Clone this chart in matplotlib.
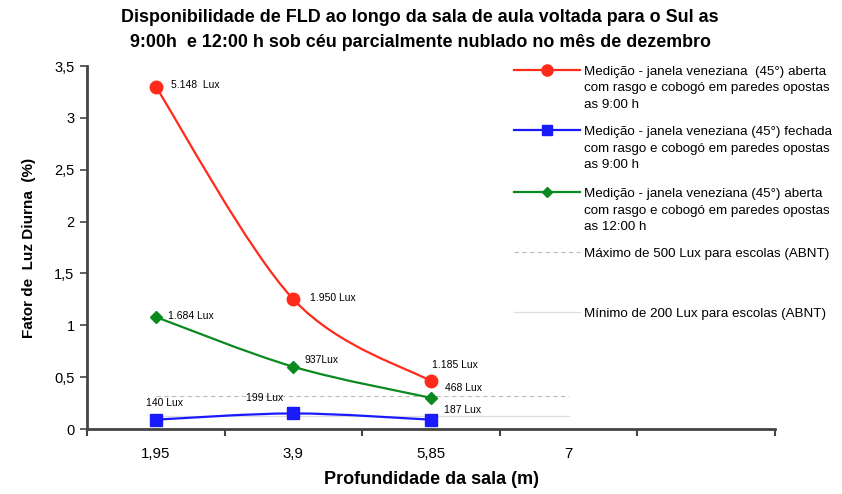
import matplotlib
matplotlib.use("Agg")
import matplotlib.pyplot as plt
from matplotlib.path import Path
from matplotlib.patches import PathPatch
from matplotlib.lines import Line2D

plt.rcParams['font.family'] = ['Liberation Sans', 'DejaVu Sans']

# ---- data ----
categories = ["1,95", "3,9", "5,85", "7", ""]
red_vals = [3.30, 1.25, 0.46]
blue_vals = [0.09, 0.15, 0.09]
green_vals = [1.08, 0.60, 0.30]
red_labels = ["5.148  Lux", "1.950 Lux", "1.185 Lux"]
blue_labels = ["140 Lux", "199 Lux", "187 Lux"]
green_labels = ["1.684 Lux", "937Lux", "468 Lux"]
max_ref = 0.32   # 500 Lux
min_ref = 0.13   # 200 Lux
yticks = [0, 0.5, 1, 1.5, 2, 2.5, 3, 3.5]
ytick_labels = ["0", "0,5", "1", "1,5", "2", "2,5", "3", "3,5"]

legend_labels = [
    "Medição - janela veneziana  (45°) aberta\ncom rasgo e cobogó em paredes opostas\nas 9:00 h",
    "Medição - janela veneziana (45°) fechada\ncom rasgo e cobogó em paredes opostas\nas 9:00 h",
    "Medição - janela veneziana (45°) aberta\ncom rasgo e cobogó em paredes opostas\nas 12:00 h",
    "Máximo de 500 Lux para escolas (ABNT)",
    "Mínimo de 200 Lux para escolas (ABNT)",
]

RED = "#FF2A1A"
BLUE = "#1A1AFF"
GREEN = "#0A8A1E"

fig = plt.figure(figsize=(8.42, 4.94), dpi=100)
ax = fig.add_axes([87/842, 1-429/494, (775-87)/842, (429-66)/494])


def smooth_path(xs, ys):
    pts = list(zip(xs, ys))
    n = len(pts)
    verts = [pts[0]]
    codes = [Path.MOVETO]
    for i in range(n - 1):
        p0 = pts[i - 1] if i > 0 else pts[i]
        p1 = pts[i]
        p2 = pts[i + 1]
        p3 = pts[i + 2] if i + 2 < n else pts[i + 1]
        c1 = (p1[0] + (p2[0] - p0[0]) / 6, p1[1] + (p2[1] - p0[1]) / 6)
        c2 = (p2[0] - (p3[0] - p1[0]) / 6, p2[1] - (p3[1] - p1[1]) / 6)
        verts += [c1, c2, p2]
        codes += [Path.CURVE4] * 3
    return Path(verts, codes)


xs = list(range(len(red_vals)))
for vals, color, marker, ms in [(red_vals, RED, 'o', 9),
                                (blue_vals, BLUE, 's', 8.5),
                                (green_vals, GREEN, 'D', 6)]:
    ax.add_patch(PathPatch(smooth_path(xs, vals), facecolor='none',
                           edgecolor=color, lw=1.6, transform=ax.transData, zorder=3))
    ax.plot(xs, vals, linestyle='none', marker=marker, color=color, ms=ms,
            zorder=4, clip_on=False)

# reference lines
ax.plot([0, 3], [max_ref, max_ref], color="#BBBBBB", lw=0.8, ls=(0, (4, 3)), zorder=2)
ax.plot([0, 3], [min_ref, min_ref], color="#DDDDDD", lw=0.9, zorder=2)

# annotations
fs_ann = 7.5
ax.annotate(red_labels[0], (0, red_vals[0]), xytext=(11, 1), textcoords='offset points', fontsize=fs_ann, va='center')
ax.annotate(red_labels[1], (1, red_vals[1]), xytext=(12, 1), textcoords='offset points', fontsize=fs_ann, va='center')
ax.annotate(red_labels[2], (2, red_vals[2]), xytext=(1, 12), textcoords='offset points', fontsize=fs_ann, va='center', ha='left')
ax.annotate(green_labels[0], (0, green_vals[0]), xytext=(9, 1), textcoords='offset points', fontsize=fs_ann, va='center')
ax.annotate(green_labels[1], (1, green_vals[1]), xytext=(8, 5), textcoords='offset points', fontsize=fs_ann, va='center')
ax.annotate(green_labels[2], (2, green_vals[2]), xytext=(10, 7), textcoords='offset points', fontsize=fs_ann, va='center')
ax.annotate(blue_labels[0], (0, blue_vals[0]), xytext=(-7, 12), textcoords='offset points', fontsize=fs_ann, va='center')
ax.annotate(blue_labels[1], (1, blue_vals[1]), xytext=(-34, 11), textcoords='offset points', fontsize=fs_ann, va='center')
ax.annotate(blue_labels[2], (2, blue_vals[2]), xytext=(9, 7), textcoords='offset points', fontsize=fs_ann, va='center')

# axes styling
ax.set_xlim(-0.5, len(categories) - 0.5)
ax.set_ylim(0, 3.5)
ax.set_yticks(yticks)
ax.set_yticklabels(ytick_labels, fontsize=10.5)
ax.set_xticks(range(len(categories)))
ax.set_xticklabels(categories, fontsize=10.8)
ax.tick_params(axis='x', length=0, pad=13)
ax.set_xticks([i + 0.5 for i in range(-1, len(categories))], minor=True)
ax.tick_params(axis='x', which='minor', length=5, width=1.5, color='#444444', direction='out')
ax.tick_params(axis='y', length=5, width=1.2, color='#444444', direction='out', pad=4)
for s in ['top', 'right']:
    ax.spines[s].set_visible(False)
for s in ['left', 'bottom']:
    ax.spines[s].set_color('#444444')
    ax.spines[s].set_linewidth(2)
ax.set_facecolor('none')

ax.set_ylabel("Fator de  Luz Diurna  (%)", fontsize=11, fontweight='bold', labelpad=13)
ax.set_xlabel("Profundidade da sala (m)", fontsize=13, fontweight='bold', labelpad=7)

fig.text(420/842, 1-30/494, "Disponibilidade de FLD ao longo da sala de aula voltada para o Sul as\n9:00h  e 12:00 h sob céu parcialmente nublado no mês de dezembro",
         ha='center', va='center', fontsize=12.9, fontweight='bold', linespacing=1.62)

# legend (manual, drawn over the plot area)
handles = [
    dict(color=RED, marker='o', ms=8, ls='-', lw=1.6, markevery=[1]),
    dict(color=BLUE, marker='s', ms=7.5, ls='-', lw=1.6, markevery=[1]),
    dict(color=GREEN, marker='D', ms=5, ls='-', lw=1.6, markevery=[1]),
    dict(color="#BBBBBB", marker=None, ls=(0, (4, 3)), lw=0.8),
    dict(color="#DDDDDD", marker=None, ls='-', lw=0.9),
]
ys_top = [70, 130, 192, 252, 312]
for lab, h, yt in zip(legend_labels, handles, ys_top):
    yf = 1 - yt / 494
    fig.add_artist(Line2D([514/842, 547/842, 580/842], [yf, yf, yf],
                          transform=fig.transFigure, zorder=5, **h))
    fig.text(584/842, 1 - (yt - 4) / 494, lab, ha='left', va='top',
             fontsize=9.6, linespacing=1.5, zorder=5,
             bbox=dict(facecolor='white', edgecolor='none', pad=0))

fig.savefig("out.png", dpi=100)
